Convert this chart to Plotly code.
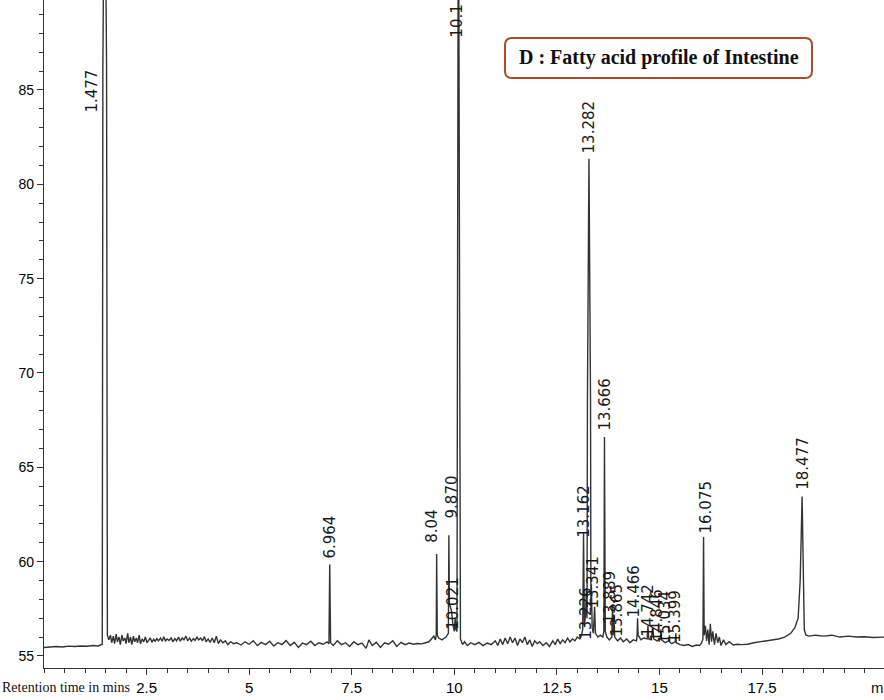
import plotly.graph_objects as go

# ---- chromatogram trace (retention time in min, detector signal) ----
rt_min = [
    0.00, 0.15, 0.30, 0.45, 0.60, 0.75, 0.90, 1.05, 1.20, 1.32, 1.40,
    1.42, 1.435, 1.477, 1.525, 1.545,
    1.58, 1.62, 1.65, 1.69, 1.72, 1.76, 1.79, 1.83, 1.86, 1.90, 1.93, 1.97, 2.00, 2.04, 2.07,
    2.11, 2.14, 2.18, 2.21, 2.25, 2.28, 2.32, 2.35, 2.39, 2.43, 2.47, 2.51, 2.55, 2.59, 2.63,
    2.67, 2.71, 2.75, 2.79, 2.84, 2.88, 2.92, 2.96, 3.00, 3.05, 3.10, 3.14, 3.19, 3.23, 3.28,
    3.32, 3.37, 3.41, 3.46, 3.50, 3.55, 3.59, 3.64, 3.68, 3.73, 3.77, 3.82, 3.86, 3.91, 3.95,
    4.00, 4.05, 4.10, 4.15, 4.20, 4.25, 4.30, 4.36, 4.42, 4.48, 4.55, 4.62,
    4.70, 4.80, 4.90, 5.00, 5.10, 5.20, 5.30, 5.40, 5.50, 5.60, 5.70, 5.80, 5.90, 6.00, 6.10,
    6.20, 6.30, 6.40, 6.50, 6.60, 6.70, 6.80, 6.90, 6.945, 6.964, 6.985,
    7.05, 7.15, 7.25, 7.35, 7.45, 7.55, 7.65, 7.75, 7.85, 7.92, 8.00, 8.10, 8.20, 8.30, 8.40,
    8.50, 8.60, 8.70, 8.80, 8.90, 9.00, 9.10, 9.20, 9.30, 9.38, 9.44, 9.50, 9.54, 9.56, 9.57,
    9.585, 9.62, 9.70, 9.76, 9.80, 9.855, 9.868, 9.88, 9.93, 9.97, 10.00, 10.021, 10.04,
    10.065, 10.08, 10.10, 10.125, 10.15, 10.20, 10.25, 10.32, 10.40, 10.50,
    10.60, 10.70, 10.80, 10.90, 11.00, 11.06, 11.12, 11.18, 11.24, 11.30, 11.36, 11.42, 11.48,
    11.54, 11.60, 11.66, 11.72, 11.78, 11.84, 11.90, 11.96, 12.02, 12.08, 12.16, 12.24, 12.32,
    12.40, 12.46, 12.52, 12.58, 12.64, 12.70, 12.76, 12.82, 12.88, 12.94, 13.00, 13.06,
    13.10, 13.13, 13.15, 13.17, 13.20, 13.22, 13.235, 13.245, 13.282, 13.32, 13.33, 13.341,
    13.36, 13.39, 13.42, 13.44, 13.50, 13.56, 13.62, 13.645, 13.66, 13.68, 13.72, 13.78,
    13.84, 13.855, 13.87, 13.89, 13.91, 13.98, 14.05, 14.12, 14.20, 14.28, 14.36, 14.44,
    14.455, 14.466, 14.48, 14.55, 14.62, 14.70, 14.72, 14.74, 14.80, 14.84, 14.86, 14.94,
    15.02, 15.034, 15.05, 15.14, 15.22, 15.30, 15.385, 15.399, 15.41, 15.50, 15.60, 15.70,
    15.80, 15.90, 15.98, 16.03, 16.06, 16.075, 16.09, 16.12, 16.15, 16.18, 16.21, 16.24,
    16.27, 16.30, 16.34, 16.38, 16.42, 16.46, 16.50, 16.56, 16.62, 16.70, 16.80, 16.90,
    17.00, 17.15, 17.30, 17.45, 17.60, 17.75, 17.90, 18.05, 18.20, 18.30, 18.38, 18.43,
    18.477, 18.51, 18.53, 18.57, 18.65, 18.80, 19.00, 19.20, 19.40, 19.60, 19.80, 20.00,
    20.20, 20.50,
]
signal = [
    55.45, 55.48, 55.50, 55.47, 55.52, 55.50, 55.53, 55.51, 55.55, 55.53, 55.58,
    55.62, 86.2, 100.0, 86.2, 56.1,
    55.85, 56.10, 55.70, 56.05, 55.65, 56.15, 55.75, 56.00, 55.60, 56.10, 55.80, 55.95, 55.65, 56.20, 55.70,
    56.00, 55.60, 56.05, 55.75, 55.95, 55.70, 56.10, 55.65, 55.90, 55.75, 56.00, 55.70, 55.85, 55.95, 55.72,
    55.88, 55.78, 55.92, 55.80, 55.95, 55.78, 56.02, 55.80, 55.90, 55.82, 55.97, 55.75, 55.92, 55.80, 56.00,
    55.78, 55.95, 55.85, 56.05, 55.80, 55.95, 55.78, 55.92, 55.82, 56.00, 55.85, 55.95, 55.80, 56.02, 55.75,
    55.90, 55.72, 55.95, 55.70, 56.05, 55.65, 55.85, 55.70, 55.80, 55.60, 55.75, 55.65,
    55.70, 55.58, 55.75, 55.62, 55.80, 55.55, 55.72, 55.60, 55.78, 55.52, 55.70, 55.60, 55.82, 55.55, 55.72,
    55.45, 55.68, 55.60, 55.78, 55.55, 55.70, 55.62, 55.75, 55.65, 59.85, 55.70,
    55.55, 55.80, 55.60, 55.70, 55.50, 55.75, 55.60, 55.68, 55.40, 55.85, 55.55, 55.72, 55.45, 55.70, 55.62,
    55.80, 55.50, 55.72, 55.60, 55.68, 55.62, 55.66, 55.64, 55.70, 55.75, 55.90, 56.05, 55.85, 56.10, 60.40,
    56.10, 55.95, 55.85, 55.95, 56.00, 56.20, 61.40, 57.80, 57.40, 56.60, 56.30, 57.00, 56.40,
    56.30, 77.30, 100.0, 77.30, 55.90, 55.60, 55.75, 55.55, 55.70, 55.60,
    55.72, 55.55, 55.68, 55.60, 55.80, 55.55, 55.90, 55.60, 55.95, 55.65, 56.00, 55.70, 55.95,
    55.55, 55.90, 55.70, 56.00, 55.60, 55.85, 55.50, 55.80, 55.65, 55.75, 55.55, 55.70, 55.50,
    55.80, 55.60, 55.90, 55.65, 55.85, 55.70, 55.95, 55.75, 55.90, 55.80, 56.00, 55.90,
    56.10, 56.40, 61.50, 56.60, 57.20, 58.60, 57.00, 68.60, 81.35, 68.60, 57.40, 58.80,
    56.50, 56.20, 57.60, 56.20, 56.00, 56.10, 56.00, 56.30, 66.60, 56.30, 56.00, 55.85,
    56.00, 57.60, 56.10, 57.20, 56.00, 55.80, 55.95, 55.75, 55.90, 55.70, 55.85, 55.80,
    56.10, 57.00, 56.10, 55.85, 55.95, 55.90, 56.60, 55.90, 55.85, 56.50, 55.90, 55.80,
    55.90, 56.40, 55.85, 55.70, 55.80, 55.65, 55.75, 56.20, 55.70, 55.60, 55.55, 55.60,
    55.50, 55.58, 55.55, 55.70, 55.90, 61.30, 56.10, 56.60, 55.80, 56.40, 55.60, 56.70,
    55.75, 56.30, 55.60, 56.20, 55.70, 56.00, 55.55, 55.85, 55.60, 55.75, 55.58, 55.62,
    55.60, 55.62, 55.70, 55.75, 55.80, 55.85, 55.90, 56.00, 56.20, 56.50, 57.00, 59.00,
    63.45, 59.00, 56.40, 56.10, 56.05, 56.10, 56.05, 56.10, 56.00, 56.05, 56.00, 56.02,
    55.98, 56.00,
]

# ---- peak labels (text as printed) and where each label sits (min, signal units) ----
label_text = ["1.477", "6.964", "8.04", "9.870", "10.021", "10.1", "13.282", "13.162",
              "13.341", "13.226", "13.666", "13.889", "13.865", "14.466", "14.742",
              "14.846", "15.034", "15.399", "16.075", "18.477"]
label_rt = [1.17, 6.97, 9.46, 9.94, 9.97, 10.07, 13.28, 13.14,
            13.38, 13.19, 13.67, 13.79, 13.96, 14.38, 14.72,
            14.94, 15.13, 15.38, 16.13, 18.50]
label_level = [83.67, 60.08, 60.87, 62.2, 56.26, 87.65, 81.55, 61.14,
               57.43, 55.73, 66.86, 56.63, 55.94, 56.9, 55.94,
               55.68, 55.57, 55.57, 61.4, 63.68]

x_tick_vals = [2.5, 5, 7.5, 10, 12.5, 15, 17.5]
x_tick_text = ["2.5", "5", "7.5", "10", "12.5", "15", "17.5"]
y_tick_vals = [55, 60, 65, 70, 75, 80, 85]
y_tick_text = ["55", "60", "65", "70", "75", "80", "85"]

W, H = 884, 700
ML, MB = 44, 32
PW, PH = W - ML, H - MB

fig = go.Figure()
fig.add_trace(go.Scatter(x=rt_min, y=signal, mode="lines",
                         line=dict(color="#333333", width=1.4), hoverinfo="skip",
                         showlegend=False))

narrow = "Liberation Sans Narrow, Arial Narrow, Liberation Sans, Arial, sans-serif"

annotations = []
for t, xv, yv in zip(label_text, label_rt, label_level):
    annotations.append(dict(x=xv, y=yv, xref="x", yref="y", text=t, showarrow=False,
                            textangle=-90, xanchor="center", yanchor="bottom",
                            font=dict(family="DejaVu Sans, sans-serif", size=15, color="#1a1a1a")))

# axis caption at bottom-left and the cut-off unit at the right edge
annotations.append(dict(x=-ML / PW, y=-20 / PH, xref="paper", yref="paper",
                        text="Retention time in mins", showarrow=False,
                        xanchor="left", yanchor="middle",
                        font=dict(family="Liberation Serif, Times New Roman, serif", size=14, color="#111")))
annotations.append(dict(x=(869 - ML) / PW, y=-20 / PH, xref="paper", yref="paper",
                        text="m", showarrow=False, xanchor="left", yanchor="middle",
                        font=dict(family=narrow, size=15, color="#111")))

# title box
bx0, bx1, by0, by1 = (505 - ML) / PW, (812 - ML) / PW, 1 - 78 / PH, 1 - 38 / PH
annotations.append(dict(x=(bx0 + bx1) / 2, y=(by0 + by1) / 2, xref="paper", yref="paper",
                        text="<b>D : Fatty acid profile of Intestine</b>", showarrow=False,
                        xanchor="center", yanchor="middle",
                        font=dict(family="Liberation Serif, Times New Roman, serif", size=20, color="#111")))
rx, ry = 7 / PW, 7 / PH
path = (f"M {bx0+rx},{by0} L {bx1-rx},{by0} Q {bx1},{by0} {bx1},{by0+ry} "
        f"L {bx1},{by1-ry} Q {bx1},{by1} {bx1-rx},{by1} L {bx0+rx},{by1} "
        f"Q {bx0},{by1} {bx0},{by1-ry} L {bx0},{by0+ry} Q {bx0},{by0} {bx0+rx},{by0} Z")

fig.update_layout(
    width=W, height=H,
    margin=dict(l=ML, r=0, t=0, b=MB, pad=0),
    paper_bgcolor="white", plot_bgcolor="white",
    annotations=annotations,
    shapes=[dict(type="path", path=path, xref="paper", yref="paper",
                 line=dict(color="#a84e2c", width=2), fillcolor="rgba(0,0,0,0)")],
    xaxis=dict(range=[0, PW / 41.03], showgrid=False, zeroline=False,
               showline=True, linecolor="#333", linewidth=1.3,
               tickmode="array", tickvals=x_tick_vals, ticktext=x_tick_text,
               ticks="outside", ticklen=6, tickcolor="#333", tickwidth=1.2,
               minor=dict(dtick=0.5, tick0=0, ticks="outside", ticklen=4, tickcolor="#333", showgrid=False),
               tickfont=dict(family=narrow, size=15, color="#000")),
    yaxis=dict(range=[54.36, 89.77], showgrid=False, zeroline=False,
               showline=True, linecolor="#333", linewidth=1.3,
               tickmode="array", tickvals=y_tick_vals, ticktext=y_tick_text,
               ticks="outside", ticklen=6, tickcolor="#333", tickwidth=1.2,
               minor=dict(dtick=1, tick0=55, ticks="outside", ticklen=4, tickcolor="#333", showgrid=False),
               tickfont=dict(family=narrow, size=14, color="#000")),
)

fig.write_html("out.html")
